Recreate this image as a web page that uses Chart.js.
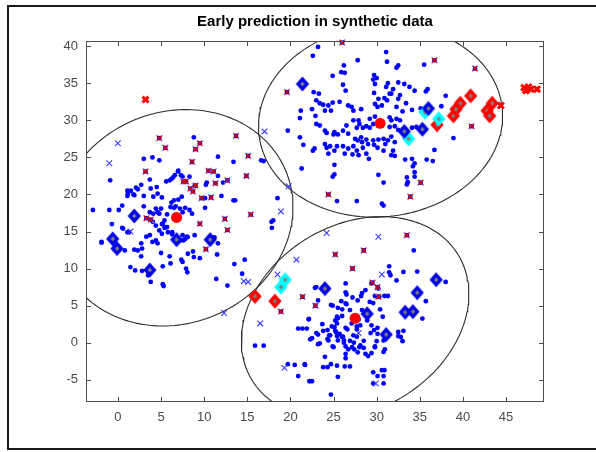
<!DOCTYPE html>
<html>
<head>
<meta charset="utf-8">
<script src="https://cdn.jsdelivr.net/npm/chart.js@4.4.1/dist/chart.umd.min.js"></script>
<style>
  body { margin: 0; background: #fff; }
  #wrap { width: 596px; height: 452px; }
</style>
</head>
<body>
<div id="wrap"><canvas id="myChart" width="596" height="452"></canvas></div>
<script>
// axis ticks
var xTicks = [0, 5, 10, 15, 20, 25, 30, 35, 40, 45];
var yTicks = [-5, 0, 5, 10, 15, 20, 25, 30, 35, 40];

// small blue dots (all samples)
var dotPoints = [
  // left cluster
  [11.6,25.1],[4.0,25.0],[4.8,24.6],[3.0,24.8],[-0.9,21.9],[7.0,23.2],[6.6,22.6],[6.4,22.3],[7.3,22.6],
  [5.6,21.75],[6.0,21.9],[4.5,21.0],[2.7,21.3],[3.7,22.0],[2.1,20.9],[1.1,20.5],[1.8,20.0],[1.1,19.8],
  [3.0,19.8],[4.1,19.7],[4.6,20.1],[5.1,19.6],[6.2,18.9],[7.4,19.7],[10.2,21.3],[12.0,19.8],[13.4,19.2],
  [13.6,19.2],[10.1,18.2],[0.5,18.5],[0.1,17.9],[-1.0,17.9],[-2.9,17.9],[3.0,18.4],[3.7,17.6],[4.4,18.1],
  [4.8,17.4],[6.1,18.3],[6.7,18.4],[7.2,18.1],[8.6,17.4],[8.8,27.7],[16.6,24.6],[16.9,24.5],[18.5,19.5],
  [18.0,16.5],[-1.9,13.5],[-0.7,16.0],[0.5,15.5],[1.1,14.9],[0.8,12.45],[1.9,12.55],[2.3,12.45],[2.8,12.7],
  [2.7,13.4],[3.3,14.3],[3.7,14.5],[4.0,13.6],[4.4,13.8],[4.6,13.4],[2.7,11.65],[1.45,10.2],[2.0,9.75],
  [2.8,9.7],[3.5,9.1],[3.8,8.2],[5.2,7.9],[5.3,7.65],[5.0,12.1],[5.2,10.3],[6.0,11.65],[6.1,10.7],
  [4.8,15.15],[5.1,14.7],[5.4,15.5],[5.8,14.9],[6.3,14.6],[5.2,16.05],[5.7,15.6],[7.5,14.5],[7.8,14.0],
  [8.1,14.25],[7.35,11.2],[7.5,10.9],[7.9,10.0],[8.05,9.5],[8.7,12.3],[8.8,11.55],[9.5,11.4],[8.1,12.0],
  [11.5,11.9],[11.4,8.6],[12.7,7.7],[13.5,10.6],[11.2,14.2],[11.6,13.4],[8.9,14.5],[4.05,16.3],[4.4,15.8],
  [5.0,18.1],[4.6,17.6],[4.1,17.4],[5.4,16.5],[5.1,16.0],[5.6,15.6],[6.3,14.9],[7.2,13.8],[7.6,13.8],
  [8.0,14.3],[5.7,17.3],[6.5,18.2],[7.5,17.6],[7.8,18.2],[8.3,17.9],[6.5,19.2],[7.0,19.3],[13.4,24.4],
  [1.5,20.5],[1.15,20.1],[1.9,19.9],[2.3,20.7],[3.8,20.8],[6.2,22.1],[6.96,23.1],[7.5,22.4],[8.3,22.4],
  [8.9,21.2],[10.3,21.6],[11.6,22.5],[12.2,21.6],[10.1,19.5],[0.6,15.4],[1.3,14.9],[-1.9,13.6],
  // top right cluster
  [23.2,39.9],[22.6,38.7],[26.2,37.4],[25.9,36.5],[26.3,36.4],[24.9,36.0],[27.8,38.1],[31.1,39.2],[31.2,37.9],
  [29.7,36.1],[30.0,35.7],[29.6,35.5],[26.1,34.8],[31.3,35.0],[31.1,34.5],[29.8,34.9],[26.4,34.0],[29.7,33.7],
  [22.7,33.8],[23.3,33.6],[23.0,32.7],[23.4,32.3],[23.8,32.1],[24.4,32.0],[24.9,32.4],[25.7,32.5],[24.0,31.3],
  [24.7,31.3],[22.5,31.5],[26.7,32.0],[27.1,31.8],[27.3,31.3],[28.2,31.5],[29.8,32.2],[30.1,31.8],[30.2,32.9],
  [30.6,32.0],[30.9,33.0],[31.2,32.7],[31.5,33.6],[22.9,30.6],[21.1,30.3],[19.7,28.6],[21.1,27.7],[23.0,29.5],
  [23.4,29.3],[24.0,28.6],[24.2,28.3],[25.1,28.4],[25.0,28.1],[25.5,28.1],[26.1,28.6],[26.5,29.3],[26.7,28.2],
  [27.3,30.0],[27.9,30.0],[28.0,29.5],[27.7,29.0],[28.4,29.0],[28.8,29.2],[29.2,29.0],[29.6,29.5],[29.2,30.2],
  [29.8,30.5],[27.5,27.5],[27.8,27.3],[28.2,27.7],[28.3,27.05],[28.8,27.4],[29.0,26.8],[29.6,27.3],[29.7,26.7],
  [30.2,27.4],[30.8,27.5],[31.0,26.8],[21.5,26.7],[22.6,25.9],[22.8,26.2],[24.0,26.8],[24.2,26.3],[24.6,26.5],
  [24.4,25.5],[25.1,25.9],[25.4,26.5],[26.1,26.5],[26.3,25.5],[26.7,26.2],[27.3,26.5],[27.7,25.9],[27.2,25.4],
  [27.9,25.3],[28.8,25.5],[29.1,24.8],[28.4,26.3],[30.1,26.3],[30.8,25.9],[25.1,24.0],[21.3,23.5],[24.9,22.4],
  [25.1,22.7],[30.2,22.65],[30.8,21.6],[27.7,19.1],[25.4,19.1],[30.6,18.75],[30.8,18.5],[31.5,30.4],[31.5,29.1],
  [31.3,27.3],[32.5,37.4],[32.3,37.1],[35.5,37.5],[32.5,35.1],[33.2,34.9],[33.8,34.5],[34.4,34.0],[35.9,34.2],
  [35.7,33.9],[31.9,34.2],[31.7,33.6],[32.7,33.4],[32.5,32.9],[33.4,32.3],[32.3,31.8],[33.0,31.2],[34.1,31.4],
  [38.0,33.3],[37.5,31.9],[35.1,31.6],[32.3,30.2],[32.7,30.0],[31.7,30.0],[32.1,29.2],[32.5,28.7],[34.1,29.0],
  [34.6,29.1],[38.9,27.6],[31.7,27.8],[32.1,27.05],[31.9,25.9],[31.7,25.3],[32.1,25.2],[36.7,26.0],[33.3,24.7],
  [34.1,24.8],[34.4,24.2],[34.2,23.8],[34.4,23.0],[35.8,24.7],[36.5,24.5],[33.6,21.65],[33.5,21.35],[33.5,22.3],
  [34.4,22.4],[21.2,31.3],
  // bottom cluster
  [34.3,12.45],[31.45,10.3],[31.45,9.5],[33.1,9.55],[34.7,9.6],[38.0,8.2],[35.7,5.6],[35.3,3.25],[32.5,1.45],
  [32.8,0.77],[33.0,0.2],[22.85,7.4],[22.15,3.2],[20.9,1.9],[21.4,1.9],[21.9,1.9],[23.7,2.5],[22.5,0.6],
  [23.2,1.1],[23.4,-0.1],[24.3,0.5],[24.5,1.0],[25.0,-0.6],[25.2,3.0],[25.4,2.6],[25.9,5.6],[25.5,4.7],
  [26.0,3.6],[26.4,8.0],[26.4,6.8],[27.2,6.1],[26.5,5.2],[26.9,4.4],[28.3,6.7],[28.7,7.1],[29.4,8.0],
  [30.2,7.3],[30.9,6.3],[31.3,6.3],[30.3,6.2],[30.4,4.5],[30.7,3.5],[29.4,2.35],[29.7,1.7],[30.1,2.0],
  [28.9,3.0],[28.1,2.35],[27.7,1.8],[27.3,1.0],[27.7,0.8],[28.1,-0.35],[28.5,-0.7],[29.0,-1.8],[29.8,-0.5],
  [30.8,0.3],[30.0,0.2],[28.5,0.25],[26.4,-0.5],[26.2,0.3],[26.9,0.25],[25.2,1.6],[25.4,0.9],[25.95,0.8],
  [26.6,1.8],[24.8,2.2],[23.8,1.6],[25.4,3.5],[26.0,4.5],[24.7,5.1],[23.2,5.7],[24.3,7.3],[26.4,-1.5],
  [27.4,-0.9],[27.8,-1.3],[26.3,-3.2],[25.4,-3.1],[24.7,-2.9],[24.3,-3.3],[23.8,-3.3],[21.7,-3.0],[20.5,-3.0],
  [19.7,-2.9],[20.9,-4.5],[22.5,-5.2],[24.7,-7.0],[29.6,-4.0],[30.9,-3.7],[30.8,-4.5],[30.8,-5.5],[29.6,-5.5],
  [15.9,-0.4],[16.9,-0.4],[33.1,1.6],[32.5,0.9],[31.6,9.1],[32.3,8.4],[14.7,11.2],[14.4,9.3],[17.8,16.3],
  [17.85,15.5],[22.1,3.15],[23.0,7.5],[23.0,1.3],[23.2,-0.2],[22.3,0.45],[24.9,5.0],[24.3,1.7],[24.6,1.0],
  [24.4,0.3],[24.9,-0.5],[25.1,2.1],[25.3,1.4],[25.7,1.2],[26.1,0.8],[26.4,2.0],[26.2,0.0],[25.5,0.3],
  [26.7,-0.9],[27.1,2.6],[27.7,2.2],[27.9,3.1],[27.8,5.7],[28.2,6.3],[28.3,4.4],[29.2,5.5],[29.6,5.35],
  [29.8,6.3],[29.3,1.3],[30.1,1.2],[29.8,-0.6],[29.4,-1.4],[30.8,-1.25],[30.95,-0.9],[30.6,-3.7],[30.1,-4.5],
  [26.5,6.5],[26.4,5.3],[25.5,3.3],[24.0,-1.9],[26.4,-2.1],[26.9,-3.2],[25.5,-4.6],[22.2,-5.2],[21.65,-2.9],
  [28.0,-0.6],[28.7,-1.5],[27.15,-0.6],[27.35,0.0]
];

// samples marked with a red x (drawn over a blue x)
var flaggedPoints = [
  [4.8,27.6],[5.5,26.3],[9.5,26.9],[9.0,26.1],[8.6,24.4],[3.2,23.1],[10.5,23.2],[11.1,23.1],[12.7,21.9],
  [11.3,21.5],[7.6,21.75],[7.9,21.75],[9.0,21.2],[8.4,20.8],[8.7,20.4],[9.7,19.5],[10.8,19.6],[12.4,16.7],
  [13.7,27.9],[3.3,16.8],[3.8,16.6],[9.5,16.05],[12.7,15.2],[10.2,12.6],[15.1,25.2],[14.9,22.5],[15.4,17.3],
  [19.6,33.8],[26.0,40.5],[36.7,38.1],[41.4,37.0],[41.0,29.2],[35.1,21.6],[33.9,19.7],[24.4,20.0],
  [18.9,4.2],[21.4,6.2],[22.9,5.0],[25.2,11.9],[27.2,10.0],[28.5,12.45],[29.5,8.1],[30.2,6.2],[30.1,7.5],[33.5,14.5]
];

// plain blue x markers
var blueCrossPoints = [
  [0.0,26.9],[-1.0,24.2],[17.0,28.5],[19.8,21.1],[18.9,17.7],[1.45,15.0],[12.3,4.0],[24.2,14.8],[30.2,14.3],
  [20.7,11.2],[18.5,9.2],[30.6,9.2],[14.6,8.3],[15.1,8.2],[16.5,2.6],[27.9,1.3],[19.3,-3.4],[29.9,-5.5]
];

// diamonds: early predictions
var blueDiamonds = [
  [1.9,17.1],[-0.6,14.0],[-0.1,12.7],[3.7,9.8],[6.8,13.9],[10.7,13.9],[21.4,34.9],[33.2,28.5],[35.3,28.8],
  [36.0,31.6],[24.0,7.3],[28.9,3.9],[31.1,1.1],[33.3,4.1],[34.2,4.2],[34.7,6.75],[36.9,8.5]
];
var cyanDiamonds = [[35.6,31.1],[37.2,30.2],[33.7,27.5],[19.4,8.5],[18.9,7.5]];
var redDiamonds = [
  [37.0,29.4],[38.9,30.6],[39.2,31.5],[39.7,32.3],[40.9,33.3],[42.8,31.3],[43.1,30.6],[43.4,32.3],
  [15.9,6.25],[18.2,5.6]
];

// outliers (bold red x)
var outlierPoints = [[3.2,32.8],[44.4,32.0],[47.1,34.4],[47.3,34.0],[47.6,34.5],[47.9,34.2],[48.6,34.2]];

// cluster centres
var centroids = [[6.8,16.9],[30.4,29.6],[27.5,3.3]];

// cluster ellipses: centre, semi axes, angle (deg)
var ellipseCenters = [[6.55,16.85],[30.45,29.9],[27.5,3.4]];
var ellipseAxes = [[14.97,13.34],[14.25,12.85],[14.88,11.73]];
var ellipseAngles = [60.7, 15.9, 48.8];

function toXY(list) {
    return list.map(function(p) { return { x: p[0], y: p[1] }; });
}

function ellipseOutline(i) {
    var c = ellipseCenters[i], a = ellipseAxes[i][0], b = ellipseAxes[i][1];
    var th = ellipseAngles[i] * Math.PI / 180;
    var pts = [];
    for (var k = 0; k <= 180; k++) {
        var t = k / 180 * 2 * Math.PI;
        pts.push({
            x: c[0] + a * Math.cos(th) * Math.cos(t) - b * Math.sin(th) * Math.sin(t),
            y: c[1] + a * Math.sin(th) * Math.cos(t) + b * Math.cos(th) * Math.sin(t)
        });
    }
    return pts;
}

function diamondIcon(edge) {
    var c = document.createElement('canvas');
    c.width = 20; c.height = 22;
    var g = c.getContext('2d');
    g.beginPath();
    g.moveTo(10, 6.0); g.lineTo(14.4, 11); g.lineTo(10, 16.0); g.lineTo(5.6, 11);
    g.closePath();
    g.fillStyle = '#7f7f7f';
    g.fill();
    g.lineWidth = 3.4;
    g.lineJoin = 'miter';
    g.strokeStyle = edge;
    g.stroke();
    return c;
}

var frame = {
    id: 'frame',
    beforeDraw: function(chart) {
        var c = chart.ctx;
        c.save();
        c.fillStyle = '#fff';
        c.fillRect(0, 0, chart.width, chart.height);
        c.strokeStyle = '#1a1a1a';
        c.lineWidth = 2;
        c.beginPath();
        c.moveTo(596, 6); c.lineTo(8, 6); c.lineTo(8, 449); c.lineTo(596, 449);
        c.stroke();
        c.restore();
    },
    afterDatasetsDraw: function(chart) {
        var a = chart.chartArea, c = chart.ctx;
        var L = Math.round(a.left) + 0.5, R = Math.round(a.right) - 0.5;
        var T = Math.round(a.top) + 0.5, B = Math.round(a.bottom) - 0.5;
        c.save();
        c.strokeStyle = '#4d4d4d';
        c.lineWidth = 1;
        c.strokeRect(L, T, R - L, B - T);
        c.beginPath();
        xTicks.forEach(function(v) {
            var px = Math.round(chart.scales.x.getPixelForValue(v)) + 0.5;
            c.moveTo(px, B); c.lineTo(px, B - 4.5);
            c.moveTo(px, T); c.lineTo(px, T + 4.5);
        });
        yTicks.forEach(function(v) {
            var py = Math.round(chart.scales.y.getPixelForValue(v)) + 0.5;
            c.moveTo(L, py); c.lineTo(L + 4.5, py);
            c.moveTo(R, py); c.lineTo(R - 4.5, py);
        });
        c.stroke();
        c.restore();
    }
};

var ctx = document.getElementById('myChart').getContext('2d');

var datasets = [];
ellipseCenters.forEach(function(_, i) {
    datasets.push({
        type: 'scatter', data: ellipseOutline(i), showLine: true, pointRadius: 0,
        borderColor: '#2b2b2b', borderWidth: 1.1, fill: false, order: 7
    });
});
datasets.push({ data: toXY(dotPoints), pointStyle: 'circle', pointRadius: 2.4,
    backgroundColor: '#0000ff', borderWidth: 0, order: 6, clip: false });
datasets.push({ data: toXY(blueCrossPoints), pointStyle: 'crossRot', pointRadius: 4,
    borderColor: '#3a3aff', borderWidth: 1.1, order: 5, clip: false });
datasets.push({ data: toXY(flaggedPoints), pointStyle: 'crossRot', pointRadius: 4.2,
    borderColor: '#9090ff', borderWidth: 1.6, order: 5, clip: false });
datasets.push({ data: toXY(flaggedPoints), pointStyle: 'circle', pointRadius: 2.3,
    backgroundColor: '#0000d0', borderWidth: 0, order: 4, clip: false });
datasets.push({ data: toXY(flaggedPoints), pointStyle: 'crossRot', pointRadius: 3.2,
    borderColor: '#e00000', borderWidth: 1.3, order: 3, clip: false });
datasets.push({ data: toXY(blueDiamonds), pointStyle: diamondIcon('#0000e6'), order: 2, clip: false });
datasets.push({ data: toXY(cyanDiamonds), pointStyle: diamondIcon('#00ffff'), order: 2, clip: false });
datasets.push({ data: toXY(redDiamonds), pointStyle: diamondIcon('#ff0000'), order: 2, clip: false });
datasets.push({ data: toXY(outlierPoints), pointStyle: 'crossRot', pointRadius: 4.2,
    borderColor: '#ff0000', borderWidth: 3, order: 1, clip: false });
datasets.push({ data: toXY(centroids), pointStyle: 'circle', pointRadius: 5.5,
    backgroundColor: '#ff0000', borderWidth: 0, order: 0, clip: false });

var tickFont = { family: 'Liberation Sans, Arial, sans-serif', size: 13 };

var myChart = new Chart(ctx, {
    type: 'scatter',
    data: { datasets: datasets },
    options: {
        responsive: false,
        devicePixelRatio: 1,
        animation: false,
        events: [],
        layout: { padding: { left: 0, right: 52, top: 0, bottom: 0 } },
        plugins: {
            legend: { display: false },
            tooltip: { enabled: false },
            title: {
                display: true,
                fullSize: false,
                text: 'Early prediction in synthetic data',
                color: '#000',
                font: { family: 'Liberation Sans, Arial, sans-serif', size: 15, weight: 'bold' },
                padding: { top: 13, bottom: 10 }
            }
        },
        scales: {
            x: {
                type: 'linear', min: -3.7, max: 49.4,
                grid: { display: false, drawTicks: false },
                border: { display: false },
                ticks: { color: '#4a4a4a', font: tickFont, padding: 8, maxRotation: 0 },
                afterBuildTicks: function(s) { s.ticks = xTicks.map(function(v) { return { value: v }; }); },
                afterFit: function(s) { s.height = 50; }
            },
            y: {
                type: 'linear', min: -8, max: 40.7,
                grid: { display: false, drawTicks: false },
                border: { display: false },
                ticks: { color: '#4a4a4a', font: tickFont, padding: 8 },
                afterBuildTicks: function(s) { s.ticks = yTicks.map(function(v) { return { value: v }; }); },
                afterFit: function(s) { s.width = 86; }
            }
        }
    },
    plugins: [frame]
});
</script>
</body>
</html>
